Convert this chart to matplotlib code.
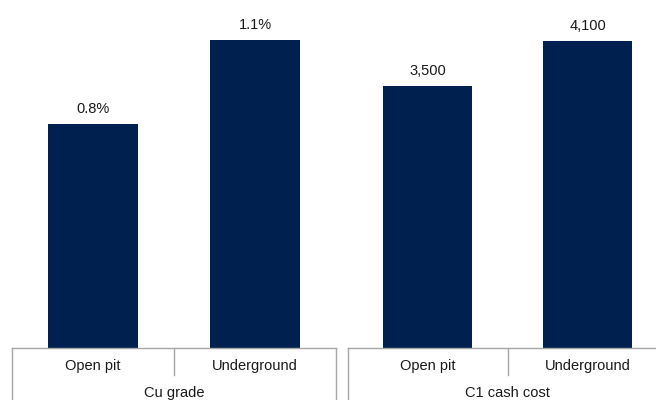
import matplotlib.pyplot as plt

plt.rcParams['font.family'] = ['Liberation Sans', 'DejaVu Sans']

# mine type split for each metric
categories = ["Open pit", "Underground"]
cu_grade = [0.8, 1.1]
cash_cost = [3500, 4100]
cu_labels = ["0.8%", "1.1%"]
cost_labels = ["3,500", "4,100"]
group_titles = ["Cu grade", "C1 cash cost"]

bar_color = "#00214f"
line_color = "#a6a6a6"
W, H = 656, 400

fig = plt.figure(figsize=(W / 100, H / 100), dpi=100)

base_px = 348  # baseline of the bars, pixels from top
panels = [
    (12, 324, cu_grade, cu_labels, 1.243),
    (347.5, 320, cash_cost, cost_labels, 4646),
]

for (left_px, width_px, values, labels, ytop), title in zip(panels, group_titles):
    ax = fig.add_axes([left_px / W, (H - base_px) / H, width_px / W, base_px / H])
    x = range(len(categories))
    ax.bar(x, values, width=0.56, color=bar_color)
    for xi, v, lab in zip(x, values, labels):
        ax.annotate(lab, (xi, v), xytext=(0, 6), textcoords="offset points",
                    ha="center", va="bottom", fontsize=10.5, color="#1a1a1a")
    ax.set_xlim(-0.5, len(categories) - 0.5)
    ax.set_ylim(0, ytop)
    ax.set_xticks([])
    ax.set_yticks([])
    for s in ["top", "left", "right"]:
        ax.spines[s].set_visible(False)
    ax.spines["bottom"].set_color(line_color)
    ax.spines["bottom"].set_linewidth(1)

    # category axis: dividers between labels and outer group borders
    tr = ax.get_xaxis_transform()
    ax.plot([0.5, 0.5], [0, -27 / base_px], color=line_color, lw=1,
            transform=tr, clip_on=False)
    for edge in (-0.5, len(categories) - 0.5):
        ax.plot([edge, edge], [0, -60 / base_px], color=line_color, lw=1,
                transform=tr, clip_on=False)
    for xi, cat in zip(x, categories):
        ax.text(xi, -18 / base_px, cat, transform=tr, ha="center", va="center",
                fontsize=10.5, color="#1a1a1a")
    ax.text((len(categories) - 1) / 2, -45 / base_px, title, transform=tr,
            ha="center", va="center", fontsize=10.5, color="#1a1a1a")

fig.savefig("out.png", dpi=100)
